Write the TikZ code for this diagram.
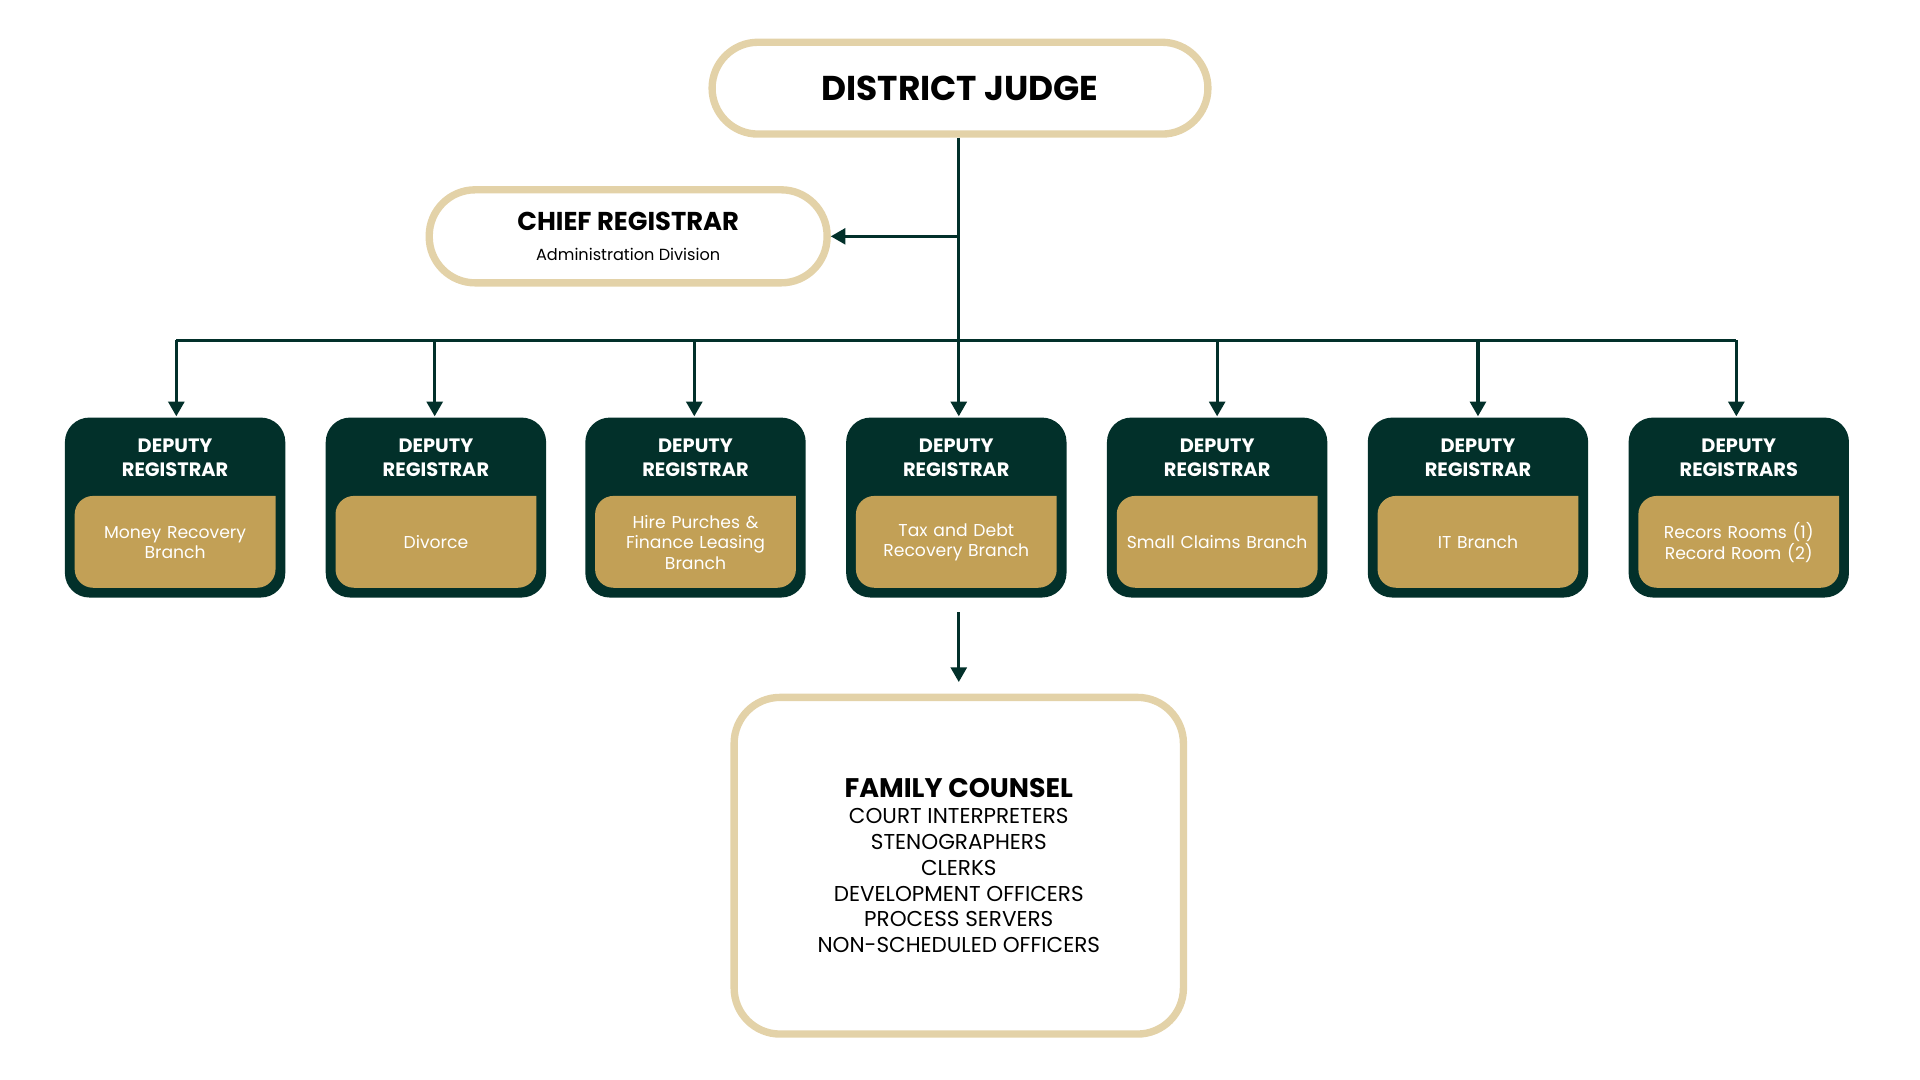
\documentclass[tikz,border=0pt]{standalone}
\usepackage{fontspec}
\setmainfont{Poppins}
\usetikzlibrary{arrows.meta,positioning}
\definecolor{beige}{HTML}{E3D2A8}
\definecolor{pine}{HTML}{02302A}
\definecolor{gold}{HTML}{C2A056}
\tikzset{
  pill/.style={draw=beige,line width=1.2mm,fill=white,rounded corners=0.75cm,align=center},
  head/.style={fill=pine,rounded corners=0.4cm,minimum width=3.6cm,minimum height=2.94cm},
  headtxt/.style={text=white,font=\fontsize{9}{11}\selectfont\bfseries,align=center},
  branch/.style={text=white,font=\fontsize{8}{9.5}\selectfont,align=center,text width=3.1cm},
  link/.style={pine,line width=0.5mm,-{Triangle[length=2.4mm,width=2.6mm]}}
}
\begin{document}
\begin{tikzpicture}[x=0.02cm,y=-0.02cm]
\useasboundingbox (0,0) rectangle (1568,882);

\node[pill,minimum width=8.1cm,minimum height=1.5cm] (judge) at (784,72)
  {\fontsize{16}{18}\selectfont\bfseries DISTRICT JUDGE};
\node[pill,minimum width=6.5cm,minimum height=1.52cm] (chief) at (513,193)
  {\fontsize{12}{14}\selectfont\bfseries CHIEF REGISTRAR\\[2pt]
   \fontsize{7.5}{9}\selectfont Administration Division};

\coordinate (split) at (783,193);
\coordinate (bus) at (783,278);
\draw[pine,line width=0.5mm] (judge.south -| bus) -- (bus);
\draw[link] (split) -- (chief.east);
\draw[pine,line width=0.5mm] (144,278) -- (1418,278);

\foreach \i/\x/\bx/\top/\txt in {
  1/143/144/DEPUTY\\REGISTRAR/Money Recovery\\Branch,
  2/356/355/DEPUTY\\REGISTRAR/Divorce/Land/Special\\Branch,
  3/568/567/DEPUTY\\REGISTRAR/Hire Purches \&\\Finance Leasing\\Branch,
  4/781/783/DEPUTY\\REGISTRAR/Tax and Debt\\Recovery Branch,
  5/994/994/DEPUTY\\REGISTRAR/Small Claims Branch,
  6/1207/1207/DEPUTY\\REGISTRAR/IT Branch,
  7/1420/1418/DEPUTY\\REGISTRARS/Recors Rooms (1)\\Record Room (2)}{
  \node[head] (dr\i) at (\x,414.5) {};
  \fill[gold,rounded corners=0.3cm] (\x-82,405) [sharp corners] -- (\x+82,405)
    [rounded corners=0.3cm] -- (\x+82,480) -- (\x-82,480) -- cycle;
  \node[headtxt] (top\i) at (\x,374) {\top};
  \node[branch] (br\i) at (\x,443) {\txt};
  \coordinate (tap\i) at (\bx,278);
  \draw[link] (tap\i) -- (\bx,340);
}

\coordinate (down) at (783,500);
\draw[link] (down) -- (783,557);

\node[pill,minimum width=7.34cm,minimum height=5.5cm] (staff) at (783,707)
  {\fontsize{12.5}{18.6}\selectfont\bfseries FAMILY COUNSEL\\COURT INTERPRETERS\\
   STENOGRAPHERS\\CLERKS\\DEVELOPMENT OFFICERS\\PROCESS SERVERS\\NON-SCHEDULED OFFICERS};
\end{tikzpicture}
\end{document}
